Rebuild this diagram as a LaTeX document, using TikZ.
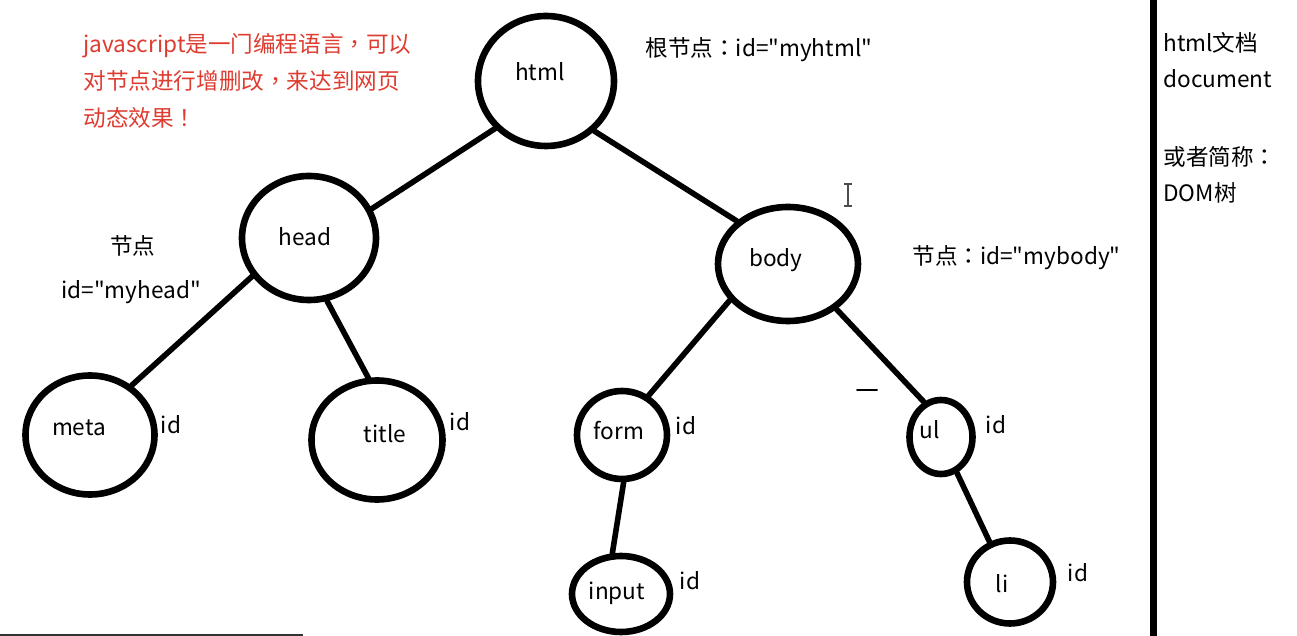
\documentclass[tikz,border=0pt]{standalone}
\usepackage{fontspec}
\newfontfamily\domfamily{Noto Sans CJK SC}
\newfontfamily\punctfamily{Noto Sans CJK TC}
\newcommand{\cpunct}[1]{{\punctfamily #1}}
\usetikzlibrary{shapes.geometric}
\definecolor{jsred}{RGB}{222,60,48}
\begin{document}
\begin{tikzpicture}
% DOM tree sketch, coordinates in screen pixels
\def\px{0.5pt}
\providecommand{\domRingWidth}{3.3pt}
\providecommand{\domEdgeWidth}{2.8pt}
\providecommand{\domFont}{\domfamily\fontsize{11.3}{13}\selectfont}
\begin{scope}[x=\px, y=-\px, line cap=round, line join=round,
  every node/.style={font=\domFont},
  domnode/.style 2 args={ellipse, draw=black, line width=\domRingWidth, minimum width=#1*\px, minimum height=#2*\px, inner sep=0pt},
  domedge/.style={draw=black, line width=\domEdgeWidth},
  idtag/.style={inner sep=0pt},
  note/.style={inner sep=0pt, align=left, anchor=west}]
  % Page frame
  \useasboundingbox (0,0) rectangle (1297,636);
  % Tree nodes
  \node[domnode={136}{130}, label={[shift={(-6,-9)}]center:html}] (html) at (546,81) {};
  \node[domnode={134}{124}, label={[shift={(-4,-1)}]center:head}] (head) at (309,238) {};
  \node[domnode={140}{114}, label={[shift={(-12,-4)}]center:body}] (body) at (788,264) {};
  \node[domnode={129}{119}, label={[shift={(-11,-7)}]center:meta}] (meta) at (90,435) {};
  \node[domnode={131}{119}, label={[shift={(8,-6)}]center:title}] (title) at (377,440) {};
  \node[domnode={90}{88}, label={[shift={(-3,-4)}]center:form}] (form) at (622,435) {};
  \node[domnode={63}{74}, label={[shift={(-11,-7)}]center:ul}] (ul) at (941,437) {};
  \node[domnode={98}{76}, label={[shift={(-4,-1)}]center:input}] (input) at (621,594) {};
  \node[domnode={86}{83}, label={[shift={(-8,2)}]center:li}] (li) at (1010,582) {};
  % Branches
  \draw[domedge] (html.223) -- (head.25);
  \draw[domedge] (html.314) -- (body.140);
  \draw[domedge] (head.214) -- (meta.50);
  \draw[domedge] (head.286) -- (title.98);
  \draw[domedge] (body.212) -- (form.56);
  \draw[domedge] (body.317) -- (ul.116);
  \draw[domedge] (form.272) -- (input.102);
  \draw[domedge] (ul.294) -- (li.117);
  % id tags
  \node[idtag] (metaid) at (171,425) {id};
  \node[idtag] (titleid) at (460,422) {id};
  \node[idtag] (formid) at (686,426) {id};
  \node[idtag] (ulid) at (996,425) {id};
  \node[idtag] (inputid) at (690,581) {id};
  \node[idtag] (liid) at (1078,573) {id};
  % Notes
  \node[note, text=jsred, font=\domfamily\fontsize{11.3}{18.5}\selectfont] (jsnote) at (83,81)
    {javascript是一门编程语言\cpunct{，}可以\\对节点进行增删改\cpunct{，}来达到网页\\动态效果\cpunct{！}};
  \node[note] (rootnote) at (645,50) {根节点\cpunct{：}id="myhtml"};
  \node[inner sep=0pt] (headnote) at (133,246) {节点};
  \node[inner sep=0pt] (headid) at (131,292) {id="myhead"};
  \node[note] (bodynote) at (912,258) {节点\cpunct{：}id="mybody"};
  % Side panel
  \draw[black, line width=3.5pt, line cap=butt] (1153.5,0) -- (1153.5,636);
  \node[note, font=\domfamily\fontsize{11.3}{18}\selectfont] (docnote) at (1163,60) {html文档\\document};
  \node[note, font=\domfamily\fontsize{11.3}{18}\selectfont] (domnote) at (1163,175) {或者简称\cpunct{：}\\DOM树};
  % Screen marks
  \draw[black, line width=1pt] (857,390) -- (877,390);
  \begin{scope}[draw=black!70, line width=0.6pt, line cap=butt]
    \draw (848,184) -- (848,206);
    \draw (844,184) -- (852,184);
    \draw (844,206) -- (852,206);
  \end{scope}
  \draw[black!80, line width=0.8pt, line cap=butt] (0,635) -- (303,635);
\end{scope}
\end{tikzpicture}
\end{document}
